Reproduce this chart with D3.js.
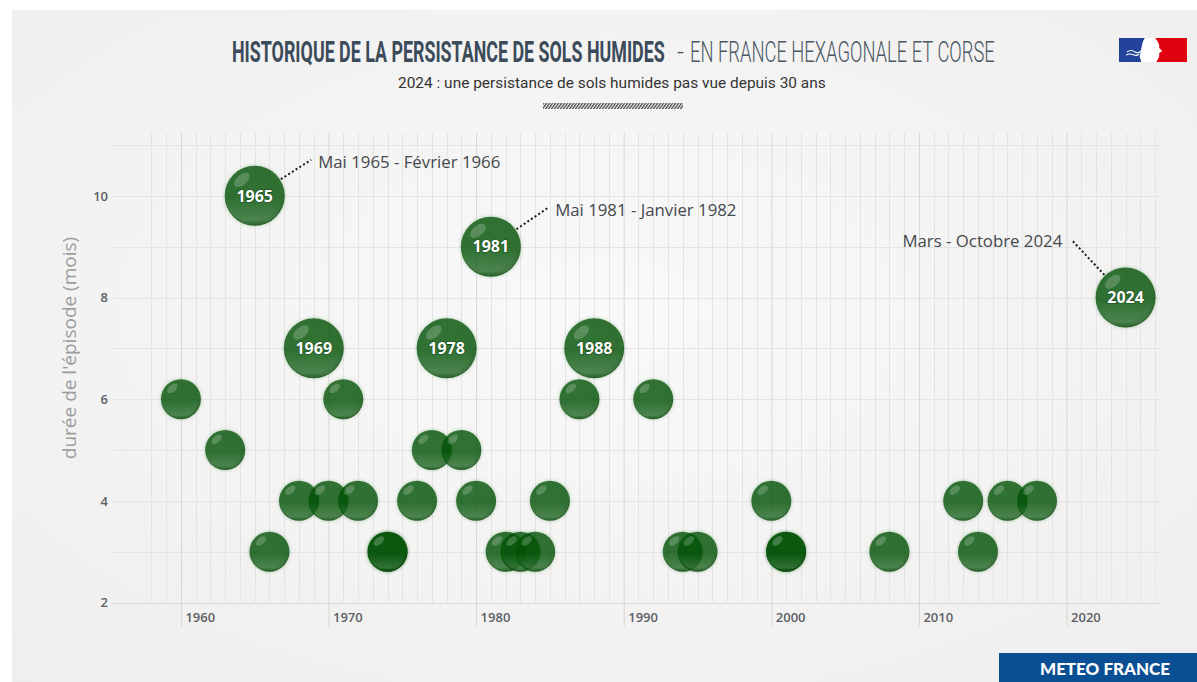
<!DOCTYPE html>
<html lang="fr">
<head>
<meta charset="utf-8">
<script src="https://cdn.jsdelivr.net/npm/d3@7"></script>
<style>
  html, body { margin: 0; padding: 0; background: #ffffff; }
  svg { display: block; }
</style>
</head>
<body>
<svg id="chart" width="1197" height="682"></svg>
<script>
// ---------------- DATA ----------------
const episodeYears  = [1960, 1963, 1965, 1966, 1968, 1969, 1970, 1971, 1972, 1974, 1974,
                       1976, 1977, 1978, 1979, 1980, 1981, 1982, 1983, 1984, 1985, 1987,
                       1988, 1992, 1994, 1995, 2000, 2001, 2001, 2008, 2013, 2014, 2016,
                       2018, 2024];
const episodeMonths = [6, 5, 10, 3, 4, 7, 4, 6, 4, 3, 3,
                       4, 5, 7, 5, 4, 9, 3, 3, 3, 4, 6,
                       7, 6, 3, 3, 4, 3, 3, 3, 4, 3, 4,
                       4, 8];
const labelledYears   = [1965, 1969, 1978, 1981, 1988, 2024];
const annotationYears = [1965, 1981, 2024];
const annotationTexts = ["Mai 1965 - Février 1966", "Mai 1981 - Janvier 1982", "Mars - Octobre 2024"];
const xTickValues = [1960, 1970, 1980, 1990, 2000, 2010, 2020];
const yTickValues = [2, 4, 6, 8, 10];
const titleBold  = "HISTORIQUE DE LA PERSISTANCE DE SOLS HUMIDES";
const titleLight = "EN FRANCE HEXAGONALE ET CORSE";
const subtitle   = "2024 : une persistance de sols humides pas vue depuis 30 ans";
const yAxisTitle = "durée de l'épisode (mois)";
const brandText  = "METEO FRANCE";

// ---------------- LAYOUT ----------------
const svg = d3.select("#chart");
const W = 1197, H = 682;
const defs = svg.append("defs");

// fit a text horizontally into [x0, x0+width] using a scale transform
function fitText(sel, x0, baseline, width) {
  const len = sel.node().getComputedTextLength();
  const k = width / len;
  sel.attr("x", 0).attr("y", 0)
    .attr("transform", `translate(${x0},${baseline}) scale(${k},1)`);
  return sel;
}

// panel background
const bg = defs.append("radialGradient").attr("id", "panelGrad")
  .attr("cx", "50%").attr("cy", "45%").attr("r", "75%");
bg.append("stop").attr("offset", "0%").attr("stop-color", "#f9f9f9");
bg.append("stop").attr("offset", "100%").attr("stop-color", "#efeeed");
svg.append("rect").attr("x", 12).attr("y", 10).attr("width", W - 12).attr("height", H - 10)
  .attr("fill", "url(#panelGrad)");

// scales
const x = d3.scaleLinear().domain([1955.4, 2026.4]).range([113, 1161]);
const y = d3.scaleLinear().domain([2, 11]).range([602.5, 145]);
const plotTop = y(11.24);

// grid: minor vertical lines every year
const g = svg.append("g");
const minorYears = d3.range(1958, 2027);
g.selectAll("line.vminor").data(minorYears.filter(v => v % 10 !== 0)).join("line")
  .attr("x1", d => Math.round(x(d)) + 0.5).attr("x2", d => Math.round(x(d)) + 0.5)
  .attr("y1", plotTop).attr("y2", y(2))
  .attr("stroke", "#e4e4e4").attr("stroke-width", 1);
// horizontal gridlines
g.selectAll("line.h").data(d3.range(3, 12)).join("line")
  .attr("x1", x.range()[0]).attr("x2", x.range()[1])
  .attr("y1", d => Math.round(y(d)) + 0.5).attr("y2", d => Math.round(y(d)) + 0.5)
  .attr("stroke", "#e4e4e4").attr("stroke-width", 1);

// x axis (major gridlines + ticks)
const xAxis = d3.axisBottom(x).tickValues(xTickValues).tickFormat(d3.format("d"))
  .tickSize(-(y(2) - plotTop)).tickPadding(0);
const xg = svg.append("g").attr("transform", `translate(0,${y(2)})`).call(xAxis);
xg.select(".domain").remove();
xg.selectAll(".tick line").attr("stroke", "#d6d6d6").attr("y2", 24).attr("y1", -(y(2) - plotTop));
xg.selectAll(".tick text")
  .attr("text-anchor", "start").attr("x", 4).attr("y", 10)
  .attr("font-family", "'Open Sans', sans-serif").attr("font-size", 13).attr("font-weight", 600)
  .attr("fill", "#5c6066");
// axis baseline
svg.append("line").attr("x1", x.range()[0]).attr("x2", x.range()[1])
  .attr("y1", Math.round(y(2)) + 0.5).attr("y2", Math.round(y(2)) + 0.5)
  .attr("stroke", "#d8d8d8");

// y axis labels
const yAxis = d3.axisLeft(y).tickValues(yTickValues).tickSize(0).tickPadding(0);
const yg = svg.append("g").attr("transform", `translate(108,0)`).call(yAxis);
yg.select(".domain").remove();
yg.selectAll(".tick text")
  .attr("font-family", "'Open Sans', sans-serif").attr("font-size", 13).attr("font-weight", 600)
  .attr("fill", "#5c6066");

// y axis title
svg.append("text")
  .attr("transform", `translate(76,${348}) rotate(-90)`)
  .attr("text-anchor", "middle")
  .attr("font-family", "'Open Sans', sans-serif").attr("font-size", 19)
  .attr("fill", "#9c9c9c").text(yAxisTitle);

// ---------------- BUBBLES ----------------
const episodes = episodeYears.map((yr, i) => ({
  year: yr, months: episodeMonths[i],
  big: labelledYears.includes(yr) && episodeMonths[i] >= 7
}));
const rScale = d3.scaleOrdinal().domain([false, true]).range([20.5, 30.5]);

const shade = defs.append("radialGradient").attr("id", "bubShade")
  .attr("cx", "45%").attr("cy", "40%").attr("r", "62%");
shade.append("stop").attr("offset", "0%").attr("stop-color", "#000").attr("stop-opacity", 0);
shade.append("stop").attr("offset", "80%").attr("stop-color", "#000").attr("stop-opacity", 0.02);
shade.append("stop").attr("offset", "100%").attr("stop-color", "#000").attr("stop-opacity", 0.18);

const glow = defs.append("linearGradient").attr("id", "bubGlow")
  .attr("x1", 0).attr("y1", 0).attr("x2", 0).attr("y2", 1);
glow.append("stop").attr("offset", "55%").attr("stop-color", "#fff").attr("stop-opacity", 0);
glow.append("stop").attr("offset", "92%").attr("stop-color", "#fff").attr("stop-opacity", 0.14);
glow.append("stop").attr("offset", "100%").attr("stop-color", "#fff").attr("stop-opacity", 0);

const blur = defs.append("filter").attr("id", "soft").attr("x", "-30%").attr("y", "-30%")
  .attr("width", "160%").attr("height", "160%");
blur.append("feGaussianBlur").attr("stdDeviation", 1.4);

const order = episodes.slice().sort((a, b) => a.big - b.big);
const bub = svg.append("g").selectAll("g.b").data(order).join("g")
  .attr("transform", d => `translate(${x(d.year)},${y(d.months)})`);
bub.append("circle").attr("r", d => rScale(d.big) + 0.5)
  .attr("fill", "rgb(40,120,40)").attr("opacity", 0.2).attr("filter", "url(#soft)");
bub.append("circle").attr("r", d => rScale(d.big) - 0.5)
  .attr("fill", "rgb(0,82,4)").attr("fill-opacity", 0.76);
bub.append("circle").attr("r", d => rScale(d.big) - 0.5).attr("fill", "url(#bubShade)");
bub.append("circle").attr("r", d => rScale(d.big) - 1.5).attr("fill", "url(#bubGlow)");
bub.append("ellipse")
  .attr("cx", d => -rScale(d.big) * 0.42).attr("cy", d => -rScale(d.big) * 0.52)
  .attr("rx", d => rScale(d.big) * 0.3).attr("ry", d => rScale(d.big) * 0.17)
  .attr("transform", d => `rotate(-40 ${-rScale(d.big) * 0.42} ${-rScale(d.big) * 0.52})`)
  .attr("fill", "#fff").attr("opacity", 0.2);

// data labels
bub.filter(d => d.big).append("text")
  .attr("text-anchor", "middle").attr("dy", "0.36em")
  .attr("font-family", "'Open Sans', sans-serif").attr("font-size", 16).attr("font-weight", 700)
  .attr("fill", "#fff").attr("stroke", "rgba(0,40,0,0.55)").attr("stroke-width", 1.2)
  .attr("paint-order", "stroke")
  .text(d => d.year);

// ---------------- ANNOTATIONS ----------------
const annOffsets = [[56.5, -36], [57.3, -39], [-54.3, -58]];
const annGroup = svg.append("g");
annotationYears.forEach((yr, i) => {
  const ep = episodes.find(e => e.year === yr && e.big);
  const cx = x(ep.year), cy = y(ep.months), r = rScale(true);
  const [dx, dy] = annOffsets[i];
  const len = Math.hypot(dx, dy);
  const sx = cx + dx / len * (r + 0.5), sy = cy + dy / len * (r + 0.5);
  const ex = cx + dx, ey = cy + dy;
  annGroup.append("line").attr("x1", sx).attr("y1", sy).attr("x2", ex).attr("y2", ey)
    .attr("stroke", "#1a1a1a").attr("stroke-width", 2).attr("stroke-dasharray", "2,2.4");
  const right = dx < 0;
  annGroup.append("text")
    .attr("x", right ? ex - 9 : ex + 7).attr("y", ey + 2)
    .attr("dy", "0.35em").attr("text-anchor", right ? "end" : "start")
    .attr("font-family", "'Open Sans', sans-serif").attr("font-size", 16.8)
    .attr("fill", "#45484c").text(annotationTexts[i]);
});

// ---------------- TITLES ----------------
fitText(svg.append("text")
  .attr("font-family", "'Liberation Sans Narrow', 'Roboto', sans-serif")
  .attr("font-size", 30).attr("font-weight", 700).attr("fill", "#3b4b5a")
  .text(titleBold), 232, 62, 433);
fitText(svg.append("text")
  .attr("font-family", "'Roboto', sans-serif").attr("font-size", 28).attr("font-weight", 300)
  .attr("fill", "#4a5866").text("-"), 677, 61, 7);
fitText(svg.append("text")
  .attr("font-family", "'Roboto', sans-serif")
  .attr("font-size", 30).attr("font-weight", 300).attr("fill", "#4a5866")
  .text(titleLight), 690, 62, 305);
fitText(svg.append("text")
  .attr("font-family", "'Roboto', sans-serif").attr("font-size", 15).attr("fill", "#333")
  .text(subtitle), 398, 88, 428);

// hatched bar
const pat = defs.append("pattern").attr("id", "hatch").attr("patternUnits", "userSpaceOnUse")
  .attr("width", 3).attr("height", 6).attr("patternTransform", "skewX(-35)");
pat.append("rect").attr("width", 1.6).attr("height", 6).attr("fill", "#4a4a4a");
svg.append("rect").attr("x", 543).attr("y", 103).attr("width", 140).attr("height", 6)
  .attr("fill", "url(#hatch)");

// ---------------- LOGOS ----------------
const logo = svg.append("g");
logo.append("path").attr("d", "M1119,38 H1145 C1141,44 1142,50 1140,55 C1139,58 1142,60 1141,62 H1119 Z")
  .attr("fill", "#23439a");
logo.append("path").attr("d", "M1187,38 H1155 C1158,42 1160,45 1159,48 L1162,51 L1159,53 C1160,56 1158,59 1156,62 H1187 Z")
  .attr("fill", "#e1000f");
logo.append("path").attr("d", "M1127,52 q4,-3 8,0 q3,2 6,-1 M1126,55 q4,-2 8,0 q3,1 5,-1")
  .attr("fill", "none").attr("stroke", "#fff").attr("stroke-width", 1.1);
logo.append("path").attr("d", "M1145,38 C1141,44 1142,50 1140,55 C1139,58 1142,60 1141,62 H1156 C1158,59 1160,56 1159,53 L1162,51 L1159,48 C1160,45 1158,42 1155,38 Z")
  .attr("fill", "#ffffff");

svg.append("rect").attr("x", 999).attr("y", 653).attr("width", 198).attr("height", 29)
  .attr("fill", "#0a4f93");
fitText(svg.append("text")
  .attr("font-family", "'Lato', 'Open Sans', sans-serif").attr("font-size", 16).attr("font-weight", 900)
  .attr("fill", "#fff").text(brandText), 1040, 675, 130);
</script>
</body>
</html>
